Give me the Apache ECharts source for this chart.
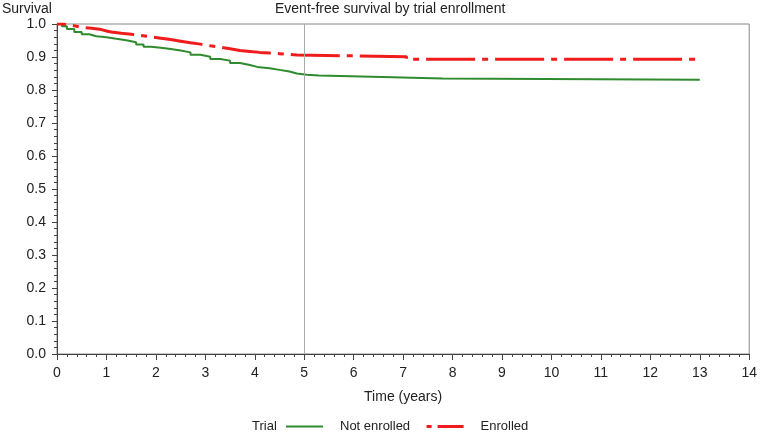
<!DOCTYPE html>
<html>
<head>
<meta charset="utf-8">
<script src="https://cdn.jsdelivr.net/npm/echarts@6/dist/echarts.min.js"></script>
<style>html,body{margin:0;padding:0;background:#fff}#c{width:760px;height:434px}</style>
</head>
<body>
<div id="c"></div>
<script>
const chartTitle = 'Event-free survival by trial enrollment';
const yAxisTitle = 'Survival';
const xAxisTitle = 'Time (years)';
const legendTitle = 'Trial';
const seriesNames = ['Not enrolled', 'Enrolled'];
const refLineX = 5;

const notEnrolledTime = [0, 0.1, 0.2, 0.35, 0.5, 0.65, 0.8, 1.0, 1.2, 1.4, 1.6, 1.75, 1.9, 2.1, 2.3, 2.5, 2.7, 2.9, 3.1, 3.3, 3.5, 3.7, 3.9, 4.05, 4.3, 4.5, 4.7, 4.85, 5.05, 5.3, 6.37, 7.8, 13.0];
const notEnrolledSurv = [1.0, 0.993, 0.985, 0.976, 0.969, 0.963, 0.960, 0.955, 0.951, 0.945, 0.938, 0.931, 0.928, 0.924, 0.920, 0.914, 0.907, 0.901, 0.894, 0.889, 0.882, 0.876, 0.870, 0.866, 0.861, 0.856, 0.850, 0.846, 0.844, 0.840, 0.835, 0.831, 0.831];

const enrolledTime = [0, 0.1, 0.3, 0.5, 0.7, 0.9, 1.0, 1.1, 1.3, 1.5, 1.7, 1.9, 2.1, 2.3, 2.5, 2.7, 2.9, 3.1, 3.3, 3.5, 3.7, 3.9, 4.1, 4.3, 4.5, 4.7, 4.85, 7.07, 13.0];
const enrolledSurv = [1.0, 0.996, 0.990, 0.987, 0.983, 0.979, 0.976, 0.972, 0.969, 0.965, 0.961, 0.957, 0.953, 0.948, 0.943, 0.939, 0.934, 0.930, 0.925, 0.920, 0.917, 0.914, 0.912, 0.910, 0.908, 0.906, 0.901, 0.893, 0.893];

const font = 'Liberation Sans, Arial, sans-serif';
const pairs = (t, s) => t.map((v, i) => [v, s[i]]);

const chart = echarts.init(document.getElementById('c'), null, {renderer: 'canvas'});
chart.setOption({
  animation: false,
  backgroundColor: '#fff',
  textStyle: {fontFamily: font},
  grid: {left: 57, right: 8, top: 24, bottom: 80, show: true, borderColor: '#888', borderWidth: 1},
  graphic: [
    {type: 'text', left: 390 - 115, top: 2, style: {text: chartTitle, font: '14px ' + font, fill: '#222'}},
    {type: 'text', left: 2, top: 2, style: {text: yAxisTitle, font: '14px ' + font, fill: '#222'}},
    {type: 'text', left: 252, top: 420, style: {text: legendTitle, font: '13px ' + font, fill: '#222'}}
  ],
  legend: {
    left: 280, top: 415, itemWidth: 37, itemHeight: 12, itemGap: 15,
    itemStyle: {opacity: 0},
    textStyle: {fontSize: 13, color: '#222', padding: [0, 0, 0, 12]},
    data: [
      {name: seriesNames[0]},
      {name: seriesNames[1], lineStyle: {type: [5, 6, 26, 40], dashOffset: 0, width: 3}}
    ]
  },
  xAxis: {
    type: 'value', min: 0, max: 14, interval: 1,
    name: xAxisTitle, nameLocation: 'middle', nameGap: 36,
    nameTextStyle: {fontSize: 14, color: '#222'},
    axisLine: {onZero: false, lineStyle: {color: '#444'}},
    axisTick: {length: 6, lineStyle: {color: '#444'}},
    minorTick: {show: true, splitNumber: 5, length: 3, lineStyle: {color: '#444'}},
    axisLabel: {fontSize: 14, color: '#222', margin: 12},
    splitLine: {show: false}
  },
  yAxis: {
    type: 'value', min: 0, max: 1, interval: 0.1,
    axisLine: {show: true, lineStyle: {color: '#444'}},
    axisTick: {show: true, length: 5, lineStyle: {color: '#444'}},
    minorTick: {show: true, splitNumber: 5, length: 3, lineStyle: {color: '#444'}},
    axisLabel: {fontSize: 14, color: '#222', margin: 11, formatter: v => v.toFixed(1)},
    splitLine: {show: false}
  },
  series: [
    {
      name: seriesNames[0], type: 'line', step: 'end', symbol: 'none', z: 3,
      data: pairs(notEnrolledTime, notEnrolledSurv),
      lineStyle: {color: '#2e8b2e', width: 2},
      itemStyle: {color: '#2e8b2e'},
      markLine: {
        silent: true, symbol: 'none', label: {show: false},
        lineStyle: {color: '#aaa', width: 1, type: 'solid'},
        data: [{xAxis: refLineX}]
      }
    },
    {
      name: seriesNames[1], type: 'line', step: 'end', symbol: 'none', z: 4,
      data: pairs(enrolledTime, enrolledSurv),
      lineStyle: {color: '#f01c1c', width: 3, type: [49, 7, 6, 7], dashOffset: 40},
      itemStyle: {color: '#f01c1c'}
    }
  ]
});
</script>
</body>
</html>
